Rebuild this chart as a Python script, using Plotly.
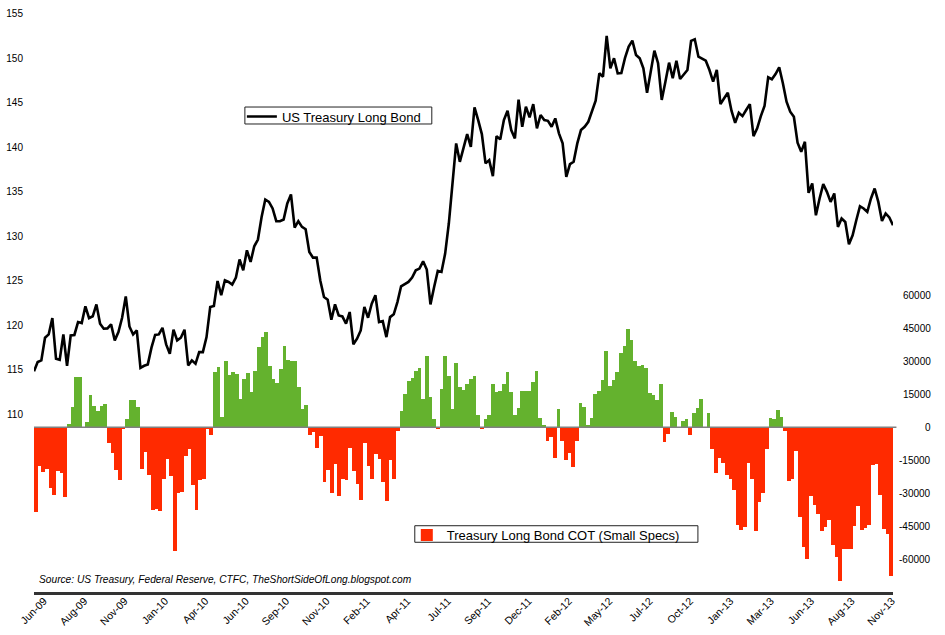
import pandas as pd
import plotly.graph_objects as go

# ---- data -------------------------------------------------------------
weeks = pd.date_range("2009-06-02", periods=235, freq="7D")

bond_price = [
    114.83, 115.85, 116.04, 118.59, 118.96, 120.80, 116.22, 116.10, 118.96, 115.44,
    118.85, 118.90, 120.35, 120.24, 122.12, 120.80, 121.00, 122.34, 120.17, 119.60,
    119.64, 120.09, 118.29, 119.22, 120.84, 123.24, 119.86, 118.96, 119.41, 115.21,
    115.44, 115.59, 117.47, 118.90, 118.96, 119.71, 117.84, 116.79, 119.49, 118.29,
    118.59, 119.49, 115.47, 116.04, 115.66, 116.97, 116.97, 118.66, 122.04, 122.15,
    124.97, 123.36, 125.05, 124.86, 124.56, 125.35, 127.38, 126.17, 128.42, 127.11,
    128.87, 129.63, 132.17, 134.13, 133.86, 133.12, 131.69, 131.69, 131.88, 133.68,
    134.70, 130.98, 131.69, 131.05, 130.79, 128.23, 127.60, 127.60, 125.00, 123.16,
    122.87, 120.61, 122.34, 121.10, 120.99, 120.17, 121.48, 117.84, 118.48, 119.41,
    122.04, 120.84, 122.42, 123.36, 120.35, 120.46, 118.66, 120.91, 121.22, 122.60,
    124.37, 124.59, 124.86, 125.35, 126.17, 126.36, 127.18, 126.25, 122.34, 124.29,
    126.10, 125.99, 128.05, 131.43, 136.31, 140.44, 138.37, 140.00, 141.49, 140.06,
    144.49, 143.06, 141.49, 138.19, 138.56, 136.76, 141.26, 140.89, 143.06, 144.11,
    141.94, 141.00, 145.36, 142.31, 144.56, 143.37, 144.86, 142.13, 143.63, 143.06,
    142.98, 142.31, 143.25, 141.57, 140.44, 136.68, 138.11, 138.37, 140.44, 141.94,
    142.31, 142.87, 144.19, 145.24, 148.32, 147.94, 152.52, 148.89, 150.01, 148.32,
    148.36, 150.05, 151.32, 151.99, 150.38, 150.01, 148.89, 146.14, 148.50, 150.87,
    149.45, 145.32, 147.38, 149.52, 147.76, 149.74, 147.68, 148.13, 148.69, 151.96,
    152.15, 150.19, 150.01, 149.74, 148.69, 147.38, 148.69, 144.86, 145.51, 146.14,
    144.11, 142.76, 143.89, 143.51, 144.19, 144.86, 141.26, 142.13, 143.51, 144.64,
    147.87, 147.65, 148.24, 149.00, 147.20, 145.12, 144.00, 143.43, 140.51, 139.49,
    140.62, 134.88, 135.93, 132.36, 134.25, 135.86, 134.99, 133.86, 134.81, 131.05,
    131.99, 131.61, 129.10, 130.11, 131.80, 133.38, 133.12, 132.74, 134.25, 135.37,
    133.86, 131.72, 132.56, 132.11, 131.24,
]

cot_small_specs = [
    -38600, -17600, -20300, -18800, -27500, -30700, -20000, -20800, -31700, 1400,
    9100, 22800, 22800, 0, 2300, 14600, 9900, 7400, 9600, 10500,
    -7100, -11700, -19600, -24100, -600, 3600, 12300, 12300, 9100, -19000,
    -11200, -21500, -37800, -37000, -38000, -23700, -14300, -22300, -56500, -29800,
    -29500, -13100, -10000, -26100, -37800, -23800, -23400, -800, -3600, 25000,
    27300, 4700, 30000, 23700, 25000, 24400, 12900, 21900, 24700, 16100,
    25600, 36400, 41000, 43300, 27800, 21900, 20200, 26700, 37000, 30500,
    30000, 30000, 18200, 8300, 10000, -3500, -2100, -9400, -4100, -24900,
    -19600, -29900, -16500, -31300, -23700, -23800, -9400, -20000, -25600, -33200,
    -7100, -17600, -23400, -12300, -14300, -24900, -33500, -15000, -23500, -1700,
    7300, 15000, 20900, 22500, 25600, 27200, 12800, 32300, 14000, 4000,
    -800, 17300, 32300, 23300, 8300, 29500, 18400, 16800, 19900, 22200,
    23400, 5700, -1000, 3600, 5500, 19600, 16100, 16500, 19900, 25100,
    15900, 5500, 9000, 16500, 16400, 16400, 20800, 25500, 4400, 900,
    -6200, -4500, -13800, 8500, -6200, -14700, -11700, -18100, -6200, 10900,
    9100, 900, 4400, 15300, 16500, 21400, 34600, 18800, 21600, 25000,
    33800, 36800, 44700, 39700, 30300, 27900, 28400, 26800, 15500, 14900,
    12400, 19700, -6900, -3000, 7100, 4800, 0, 2800, 3600, -3500,
    6400, 8700, 12900, 0, 6500, -9800, -20700, -14200, -16200, -21600,
    -23600, -28600, -44500, -46700, -45300, -16100, -23700, -47000, -33900, -29900,
    -10000, 4100, 3600, 7700, 4500, -1600, -24400, -23400, -11000, -40900,
    -54500, -59800, -31400, -35400, -39600, -47100, -45400, -42300, -53600, -59000,
    -70000, -55200, -55600, -55200, -45100, -36000, -46900, -45900, -44600, -17200,
    -16800, -31000, -46400, -48400, -67700,
]

label_every = 11
tick_idx = list(range(0, len(weeks), label_every))
tick_text = [weeks[i].strftime("%b-%y") for i in tick_idx]

price_ticks = [110, 115, 120, 125, 130, 135, 140, 145, 150, 155]
cot_ticks = [60000, 45000, 30000, 15000, 0, -15000, -30000, -45000, -60000]

source_text = "Source: US Treasury, Federal Reserve, CTFC, TheShortSideOfLong.blogspot.com"

# ---- figure -----------------------------------------------------------
N = len(weeks)
idx = list(range(N))
GREEN = "#64B22E"
RED = "#FF2A00"
bar_colors = [GREEN if v > 0 else RED for v in cot_small_specs]
FONT = "Liberation Sans"

fig = go.Figure()
fig.add_trace(go.Bar(
    x=idx, y=cot_small_specs, xaxis="x", yaxis="y",
    marker=dict(color=bar_colors, line=dict(width=0)),
    width=1.0, name="Treasury Long Bond COT (Small Specs)",
    legend="legend2", showlegend=True,
))
fig.add_trace(go.Scatter(
    x=idx, y=bond_price, xaxis="x2", yaxis="y2", mode="lines",
    line=dict(color="black", width=2.6), name="US Treasury Long Bond",
    legend="legend", showlegend=True,
))

annotations = []
for v in cot_ticks:
    annotations.append(dict(
        x=1.0471, xref="paper", xanchor="right", y=v, yref="y", yanchor="middle",
        text=str(v), showarrow=False, font=dict(family=FONT, size=10, color="black"),
    ))
annotations.append(dict(
    x=0.0035, xref="paper", xanchor="left", y=0.0221, yref="paper", yanchor="middle",
    text="<i>" + source_text + "</i>", showarrow=False,
    font=dict(family=FONT, size=10.2, color="black"),
))

legend_box = dict(type="rect", xref="paper", yref="paper", fillcolor="white",
                  line=dict(color="#222222", width=1), layer="above")

fig.update_layout(
    width=945, height=635,
    margin=dict(l=34, r=51.5, t=5, b=43),
    paper_bgcolor="white", plot_bgcolor="white",
    bargap=0, barmode="overlay",
    font=dict(family=FONT, size=10, color="black"),
    xaxis=dict(range=[-0.5, N - 0.5], showticklabels=False, showgrid=False,
               zeroline=False, showline=True, linecolor="#333333", linewidth=2.5,
               ticks=""),
    xaxis2=dict(overlaying="x", anchor="y2", side="bottom", range=[0, N - 1],
                tickmode="array", tickvals=tick_idx, ticktext=tick_text,
                tickangle=-45, showgrid=False, zeroline=False, showline=False,
                ticks="", ticklabelshift=10,
                tickfont=dict(family=FONT, size=10.5, color="black")),
    yaxis=dict(side="right", range=[-75000, 192300], showticklabels=False,
               showgrid=False, zeroline=False, showline=False, ticks=""),
    yaxis2=dict(overlaying="y", anchor="x2", side="left", range=[90, 156],
                tickmode="array", tickvals=price_ticks,
                ticktext=[str(v) for v in price_ticks],
                showgrid=False, zeroline=False, showline=False, ticks="",
                ticklabelstandoff=10,
                tickfont=dict(family=FONT, size=10, color="black")),
    legend=dict(x=0.2420, y=0.8356, xanchor="left", yanchor="top",
                bgcolor="rgba(0,0,0,0)", borderwidth=0,
                font=dict(family=FONT, size=13, color="black"), itemwidth=30),
    legend2=dict(x=0.4340, y=0.1227, xanchor="left", yanchor="top",
                 bgcolor="rgba(0,0,0,0)", borderwidth=0,
                 font=dict(family=FONT, size=13, color="black"), itemwidth=30),
    shapes=[
        dict(type="line", xref="paper", yref="y", x0=0, x1=1.004, y0=0, y1=0,
             line=dict(color="#808080", width=1.6), layer="above"),
        dict(legend_box, x0=0.2455, x1=0.4631, y0=0.7973, y1=0.8262),
        dict(legend_box, x0=0.4433, x1=0.7729, y0=0.0847, y1=0.1129),
    ],
    annotations=annotations,
    showlegend=True,
)

fig.write_html("out.html", config={"displayModeBar": False},
               post_script="document.body.style.margin='0px';")
